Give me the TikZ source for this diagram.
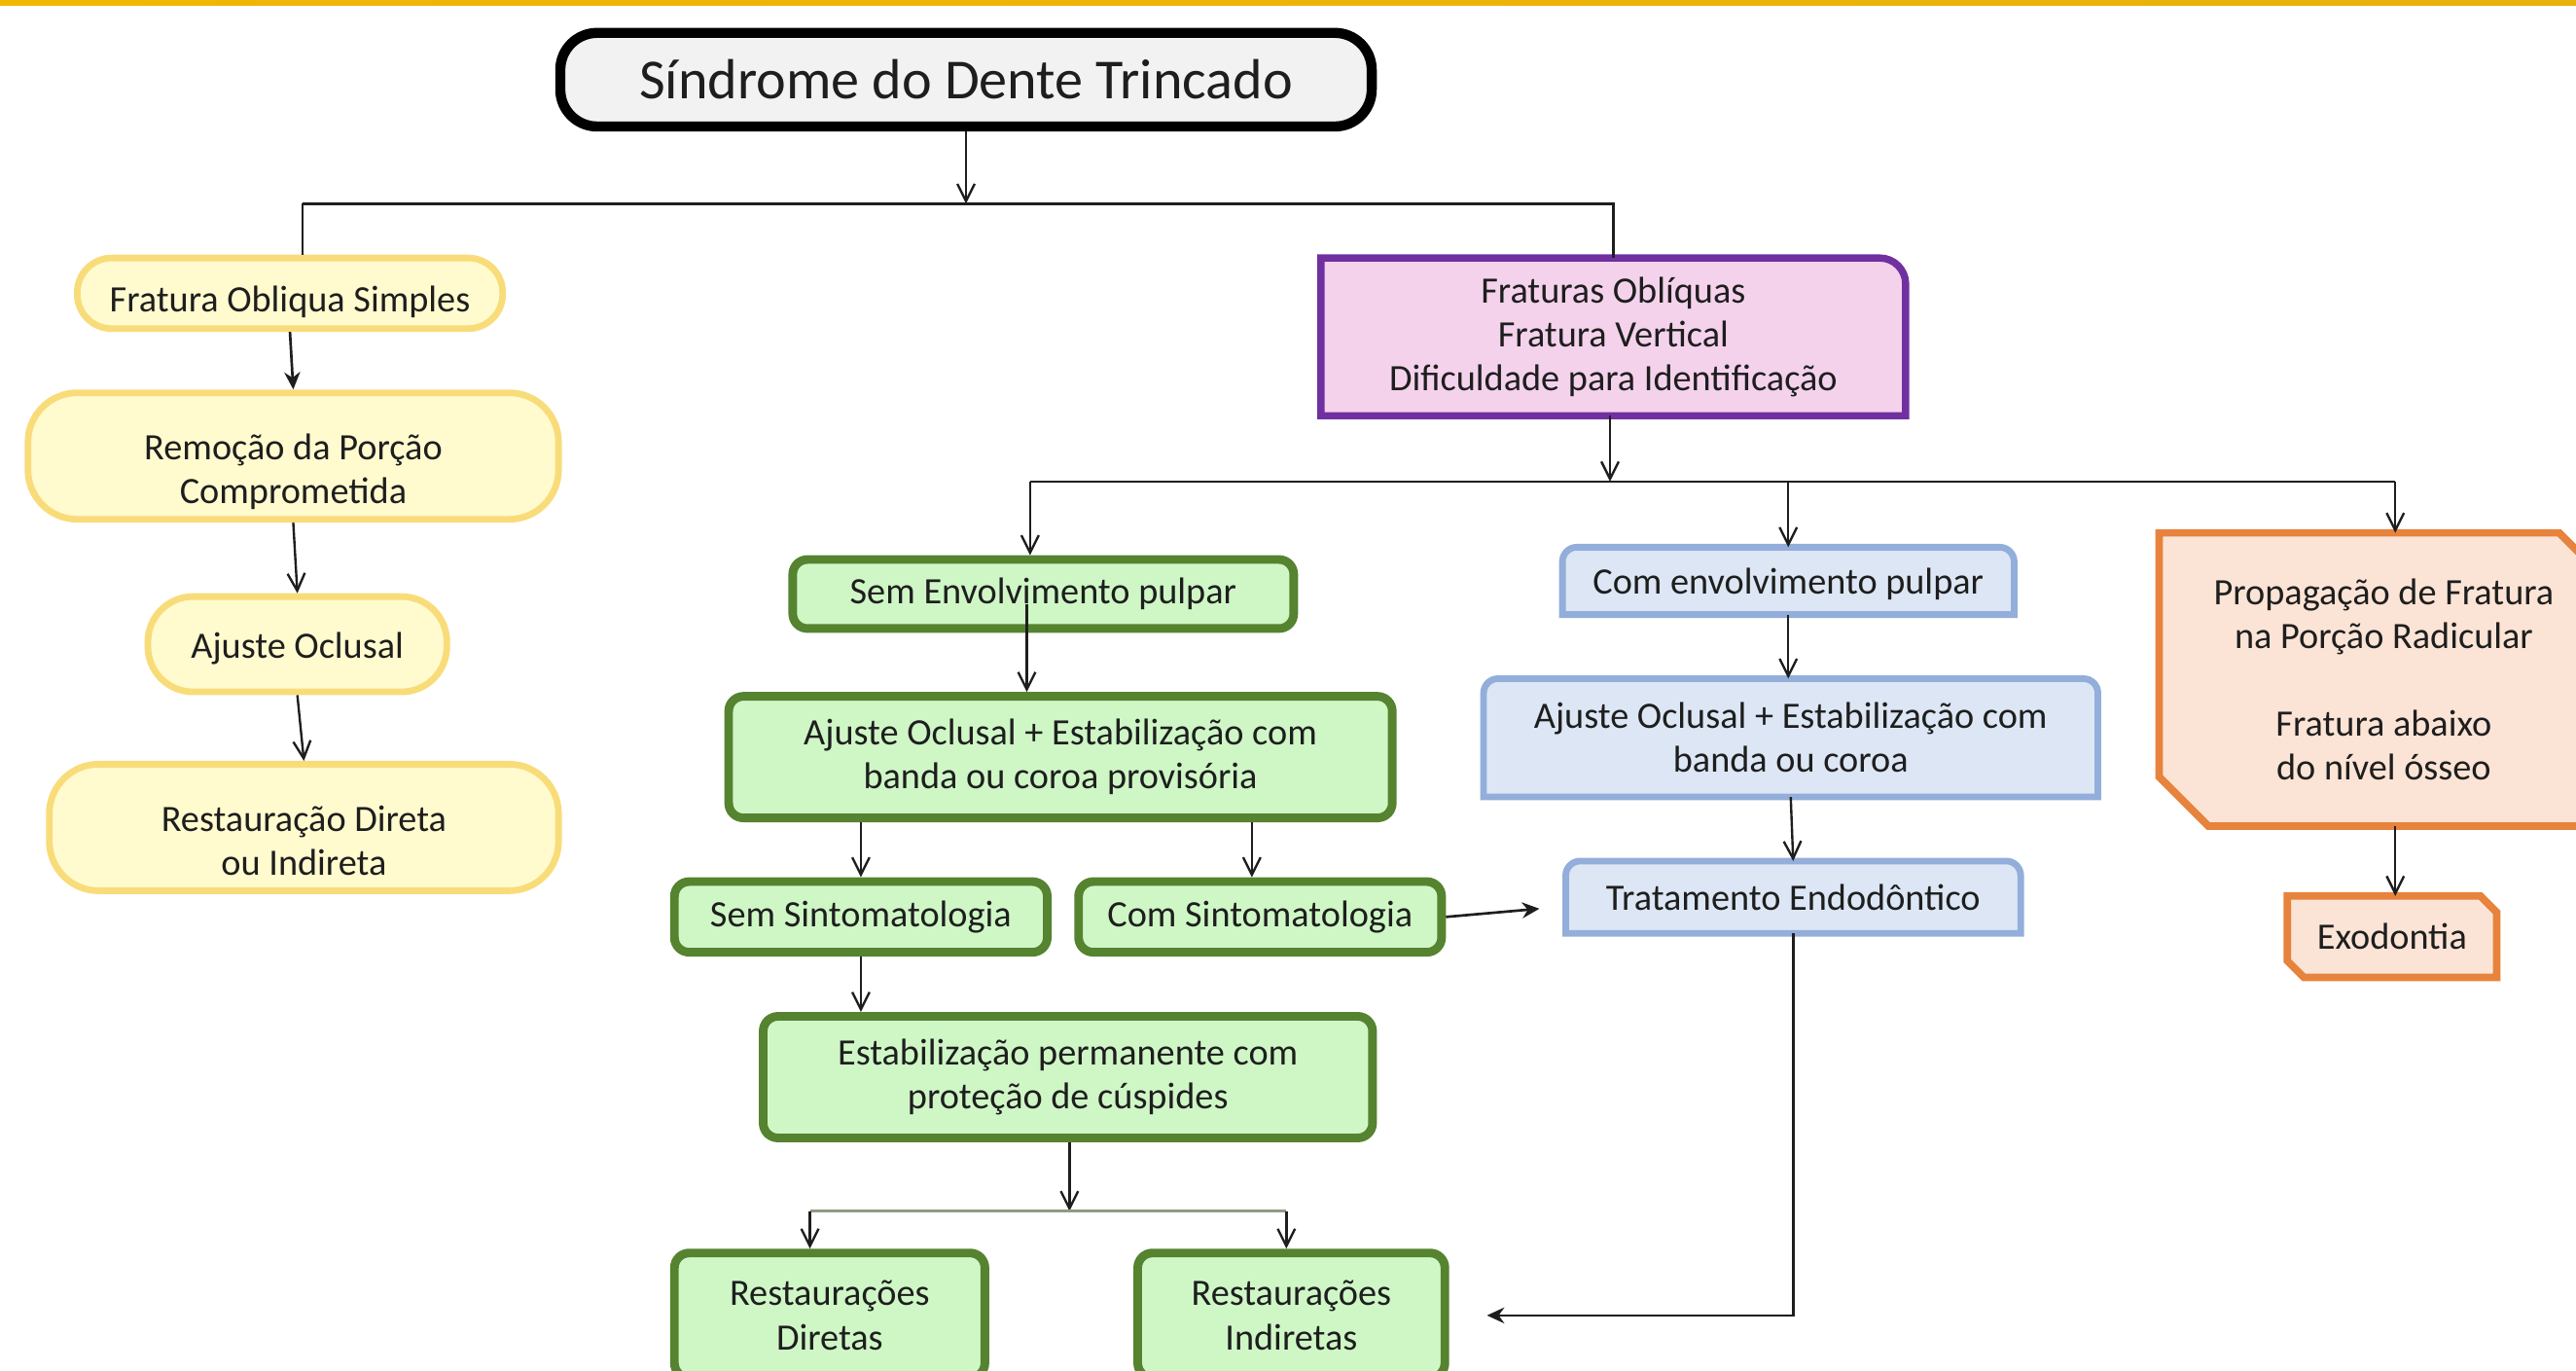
\documentclass[tikz,border=0pt]{standalone}
\usepackage{fontspec}
\setmainfont{Carlito}
\usetikzlibrary{arrows.meta, positioning, backgrounds, calc}

\definecolor{cText}{HTML}{1E1E1E}
\definecolor{cYelF}{HTML}{FFFBCF}
\definecolor{cYelD}{HTML}{F9DC7A}
\definecolor{cGrnF}{HTML}{CFF7C6}
\definecolor{cGrnD}{HTML}{55832F}
\definecolor{cBluF}{HTML}{DCE6F4}
\definecolor{cBluD}{HTML}{93AEDA}
\definecolor{cPurF}{HTML}{F4D2EC}
\definecolor{cPurD}{HTML}{7030A0}
\definecolor{cOrgF}{HTML}{FBE4D5}
\definecolor{cOrgD}{HTML}{E7833D}
\definecolor{cTitF}{HTML}{F2F2F2}
\definecolor{cGoldA}{HTML}{F2B705}
\definecolor{cGoldB}{HTML}{FFE58F}
\definecolor{cGoldC}{HTML}{E9B10A}
\definecolor{cSplit}{HTML}{8E9C84}

\tikzset{
  txt/.style={font=\fontsize{12.9}{15.2}\selectfont, text=cText, align=center, inner sep=2pt},
  titlebox/.style={rectangle, rounded corners=0.45cm, draw=black, line width=3.5pt,
    fill=cTitF, font=\fontsize{19.6}{24}\selectfont, text=cText,
    minimum width=9.88cm, minimum height=1.14cm},
  ybox/.style={txt, rectangle, rounded corners=#1, draw=cYelD, fill=cYelF, line width=2.3pt},
  ybox/.default=0.42cm,
  gbox/.style={txt, rectangle, rounded corners=0.18cm, draw=cGrnD, fill=cGrnF, line width=3pt},
  plain/.style={txt, outer sep=0pt},
  arr/.style={-{Straight Barb[length=6pt,width=6pt]}, line width=0.8pt, draw=cText},
  farr/.style={-{Stealth[length=6pt,width=5.5pt]}, line width=0.9pt, draw=cText},
  conn/.style={line width=0.8pt, draw=cText},
  split/.style={line width=1pt, draw=cSplit},
  bluebd/.style={draw=cBluD, fill=cBluF, line width=2.3pt},
  purbd/.style={draw=cPurD, fill=cPurF, line width=2.5pt},
  orgbd/.style={draw=cOrgD, fill=cOrgF, line width=2.6pt},
}

% invisible strut that pushes the text of a box a little down
\newcommand{\lift}[1]{\rule{0pt}{#1}}

% boxes with only some corners rounded or cut
\newcommand{\topround}[1]{%
  \filldraw[bluebd] (#1.south west) -- ([yshift=-5pt]#1.north west)
    arc[start angle=180, end angle=90, radius=5pt] -- ([xshift=-5pt]#1.north east)
    arc[start angle=90, end angle=0, radius=5pt] -- (#1.south east) -- cycle;}
\newcommand{\trround}[1]{%
  \filldraw[purbd] (#1.south west) -- (#1.north west) -- ([xshift=-9pt]#1.north east)
    arc[start angle=90, end angle=0, radius=9pt] -- (#1.south east) -- cycle;}
\newcommand{\snipped}[2]{%
  \filldraw[orgbd] (#1.north west) -- ([xshift=-#2]#1.north east) -- ([yshift=-#2]#1.north east)
    -- (#1.south east) -- ([xshift=#2]#1.south west) -- ([yshift=#2]#1.south west) -- cycle;}

\begin{document}
\begin{tikzpicture}[x=0.02cm, y=-0.02cm]

  \useasboundingbox (0,0) rectangle (1568,834);
  \clip (0,0) rectangle (1568,834);
  \begin{scope}[on background layer]
    \fill[white] (0,0) rectangle (1568,834);
    \shade[left color=cGoldA, middle color=cGoldB, right color=cGoldC] (0,0) rectangle (1568,3);
  \end{scope}

  % Title
  \node[titlebox] (title) at (588,48.5) {Síndrome do Dente Trincado};

  % Left column: simple oblique fracture
  \node[ybox, minimum width=5.18cm, minimum height=0.86cm] (fos) at (176.5,178.5) {\lift{15pt}Fratura Obliqua Simples};
  \node[ybox=0.6cm, minimum width=6.46cm, minimum height=1.54cm, below=0.7cm of fos, xshift=0.04cm] (rem) {\lift{20pt}Remoção da Porção\\Comprometida};
  \node[ybox=0.55cm, minimum width=3.64cm, minimum height=1.16cm, below=0.86cm of rem, xshift=0.05cm] (ajo) {\lift{12pt}Ajuste Oclusal};
  \node[ybox=0.6cm, minimum width=6.2cm, minimum height=1.54cm, below=0.8cm of ajo, xshift=0.08cm] (rdi) {\lift{18pt}Restauração Direta\\ou Indireta};

  % Right head
  \node[plain, minimum width=7.12cm, minimum height=1.92cm] (frat) at (982,205) {Fraturas Oblíquas\\Fratura Vertical\\Dificuldade para Identificação};

  % Green column: no pulp involvement
  \node[gbox, minimum width=6.1cm, minimum height=0.84cm] (sem) at (635,361.5) {Sem Envolvimento pulpar};
  \node[gbox, minimum width=8.08cm, minimum height=1.48cm, below=0.72cm of sem, xshift=0.21cm] (ajg) {Ajuste Oclusal + Estabilização com\\banda ou coroa provisória};
  \node[gbox, minimum width=4.54cm, minimum height=0.86cm] (ssin) at (524,558) {Sem Sintomatologia};
  \node[gbox, minimum width=4.42cm, minimum height=0.86cm] (csin) at (767,558) {Com Sintomatologia};
  \node[gbox, minimum width=7.42cm, minimum height=1.48cm] (est) at (650,655.5) {Estabilização permanente com\\proteção de cúspides};
  \node[gbox, minimum width=3.78cm, minimum height=1.52cm] (rdir) at (505,800.5) {Restaurações\\Diretas};
  \node[gbox, minimum width=3.74cm, minimum height=1.52cm] (rind) at (786,800.5) {Restaurações\\Indiretas};

  % Blue column: pulp involvement
  \node[plain, minimum width=5.5cm, minimum height=0.82cm] (cen) at (1088.5,353.5) {\lift{11pt}Com envolvimento pulpar};
  \node[plain, minimum width=7.48cm, minimum height=1.44cm] (ajb) at (1090,449) {Ajuste Oclusal + Estabilização com\\banda ou coroa};
  \node[plain, minimum width=5.54cm, minimum height=0.88cm] (trat) at (1091.5,546) {Tratamento Endodôntico};

  % Orange column
  \node[plain, minimum width=5.47cm, minimum height=3.57cm] (prop) at (1451,413.5) {Propagação de Fratura\\na Porção Radicular\\[15pt]Fratura abaixo\\do nível ósseo};
  \node[plain, minimum width=2.55cm, minimum height=0.99cm] (exo) at (1456,570) {Exodontia};

  \begin{scope}[on background layer]
    \trround{frat}
    \topround{cen}
    \topround{ajb}
    \topround{trat}
    \snipped{prop}{0.6cm}
    \snipped{exo}{0.2cm}
  \end{scope}

  % Split under the title
  \coordinate (tsplit) at (588,124);
  \coordinate (tL) at (184,124);
  \draw[arr] (title.south) -- (tsplit);
  \draw[conn] (tL) -- (tsplit -| frat.north) -- (frat.north);
  \draw[conn] (tL) -- (tL |- fos.north);

  % Left column arrows
  \draw[farr] (fos.south) -- (rem.north);
  \draw[arr] (rem.south) -- (ajo.north);
  \draw[arr] (ajo.south) -- (rdi.north);

  % Split under the purple box
  \coordinate (psplit) at (980,293);
  \coordinate (pL) at (627,293);
  \coordinate (pR) at (1458,293);
  \draw[arr] (frat.south -| psplit) -- (psplit);
  \draw[conn] (pL) -- (pR);
  \draw[arr] (pL) -- (pL |- sem.north);
  \draw[arr] (cen.north |- pL) -- (cen.north);
  \draw[arr] (pR) -- (pR |- prop.north);

  % Green column arrows
  \coordinate (semT) at ([xshift=-0.2cm,yshift=-0.12cm]sem.center);
  \coordinate (csinT) at ([xshift=-0.1cm]csin.north);
  \draw[arr] (semT) -- (semT |- ajg.north);
  \draw[arr] (ajg.south -| ssin.north) -- (ssin.north);
  \draw[arr] (ajg.south -| csinT) -- (csinT);
  \draw[farr] (csin.east) -- ([xshift=-0.32cm,yshift=-0.14cm]trat.west);
  \draw[arr] (ssin.south) -- (ssin.south |- est.north);
  \coordinate (gsplit) at (651,737);
  \coordinate (gL) at (493,737);
  \coordinate (gR) at (783,737);
  \draw[arr] (est.south -| gsplit) -- (gsplit);
  \draw[split] (gL) -- (gR);
  \draw[arr] (gL) -- (gL |- rdir.north);
  \draw[arr] (gR) -- (gR |- rind.north);

  % Blue column arrows
  \draw[arr] (cen.south) -- (cen.south |- ajb.north);
  \draw[arr] (ajb.south) -- (trat.north);
  \draw[farr] (trat.south) |- ([xshift=0.46cm]rind.east);

  % Orange column arrow
  \draw[arr] (pR |- prop.south) -- (pR |- exo.north);

\end{tikzpicture}
\end{document}
